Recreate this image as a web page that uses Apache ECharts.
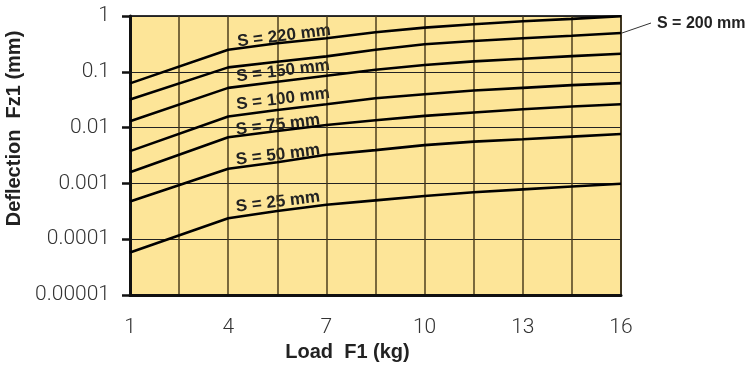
<!DOCTYPE html>
<html>
<head>
<meta charset="utf-8">
<script src="https://cdn.jsdelivr.net/npm/echarts@6/dist/echarts.min.js"></script>
<style>
	html, body { margin: 0; padding: 0; background: #fff; }
	#main { width: 755px; height: 369px; }
</style>
</head>
<body>
<div id="main"></div>
<script>
	var loads = [1, 4, 5.5, 7, 8.5, 10, 11.5, 13, 14.5, 16];
	var gridLoads = [1, 2.5, 4, 5.5, 7, 8.5, 10, 11.5, 13, 14.5, 16];
	var loadTicks = [1, 4, 7, 10, 13, 16];
	var deflectionTicks = ['0.00001', '0.0001', '0.001', '0.01', '0.1', '1'];

	// deflection Fz1 (mm), one list per stroke S
	var s220 = [0.062, 0.249, 0.324, 0.399, 0.512, 0.618, 0.713, 0.805, 0.887, 0.99];
	var s200 = [0.0319, 0.120, 0.151, 0.189, 0.249, 0.311, 0.356, 0.399, 0.444, 0.497];
	var s150 = [0.0130, 0.0515, 0.0661, 0.0847, 0.1086, 0.132, 0.154, 0.171, 0.191, 0.211];
	var s100 = [0.00379, 0.0158, 0.0207, 0.0262, 0.0336, 0.0397, 0.0462, 0.0515, 0.0577, 0.0627];
	var s75 = [0.00159, 0.0067, 0.00869, 0.01114, 0.01352, 0.0162, 0.0186, 0.0213, 0.0239, 0.0262];
	var s50 = [0.000472, 0.00183, 0.0024, 0.00327, 0.00395, 0.00486, 0.0056, 0.00617, 0.00689, 0.00767];
	var s25 = [0.0000579, 0.000237, 0.000321, 0.000414, 0.000497, 0.000596, 0.000692, 0.000783, 0.000879, 0.000984];

	var strokes = [
		{name: 'S = 220 mm', data: s220},
		{name: 'S = 200 mm', data: s200},
		{name: 'S = 150 mm', data: s150},
		{name: 'S = 100 mm', data: s100},
		{name: 'S = 75 mm', data: s75},
		{name: 'S = 50 mm', data: s50},
		{name: 'S = 25 mm', data: s25}
	];

	var lightFont = {fontFamily: 'Roboto', fontWeight: 300, fontSize: 21, color: '#333'};
	var boldFont = {fontFamily: 'Liberation Sans', fontWeight: 'bold', fontSize: 20, color: '#222'};
	var tilt = 7 * Math.PI / 180;

	function curveLabel(text, x, y) {
		return {
			type: 'text', x: x, y: y, rotation: tilt,
			style: {
				text: text, fill: '#222',
				font: 'bold 17px "Liberation Sans"',
				align: 'center', verticalAlign: 'middle'
			}
		};
	}

	var myChart = echarts.init(document.getElementById('main'));
	myChart.setOption({
		animation: false,
		grid: {
			left: 130, right: 134, top: 16, bottom: 74,
			show: true,
			backgroundColor: '#FDE598',
			borderColor: '#333',
			borderWidth: 2,
			outerBoundsMode: 'none'
		},
		xAxis: {
			type: 'value',
			min: 1,
			max: 16,
			axisLine: {lineStyle: {color: '#111', width: 3}},
			axisTick: {show: false, customValues: gridLoads},
			axisLabel: Object.assign({customValues: loadTicks, margin: 22}, lightFont),
			splitLine: {show: true, lineStyle: {color: 'rgba(70,56,25,0.8)', width: 1.8}},
			name: 'Load  F1 (kg)',
			nameLocation: 'middle',
			nameGap: 44,
			nameTextStyle: Object.assign({padding: [0, 56, 0, 0]}, boldFont)
		},
		yAxis: {
			type: 'log',
			logBase: 10,
			min: 0.00001,
			max: 1,
			axisLine: {show: true, lineStyle: {color: '#111', width: 3}},
			axisTick: {show: true, length: 8, lineStyle: {color: '#111', width: 2.5}},
			axisLabel: Object.assign({
				margin: 20,
				formatter: function (v) {
					return deflectionTicks[Math.round(Math.log10(v)) + 5];
				}
			}, lightFont),
			splitLine: {show: true, lineStyle: {color: '#222', width: 1}},
			name: 'Deflection  Fz1 (mm)',
			nameLocation: 'middle',
			nameRotate: 90,
			nameGap: 105,
			nameTextStyle: Object.assign({padding: [0, 0, 0, 54]}, boldFont)
		},
		series: strokes.map(function (s) {
			return {
				name: s.name,
				type: 'line',
				showSymbol: false,
				silent: true,
				lineStyle: {color: '#000', width: 2.6},
				data: s.data.map(function (v, i) { return [loads[i], v]; })
			};
		}),
		graphic: [
			curveLabel('S = 220 mm', 284, 36),
			curveLabel('S = 150 mm', 283, 71),
			curveLabel('S = 100 mm', 283, 99),
			curveLabel('S = 75 mm', 278, 125),
			curveLabel('S = 50 mm', 278, 155),
			curveLabel('S = 25 mm', 278, 202),
			{
				type: 'line',
				shape: {x1: 622, y1: 33, x2: 651, y2: 23},
				style: {stroke: '#333', lineWidth: 1}
			},
			{
				type: 'text', x: 657, y: 24,
				style: {
					text: 'S = 200 mm', fill: '#222',
					font: 'bold 16px "Liberation Sans"',
					align: 'left', verticalAlign: 'middle'
				}
			}
		]
	});
</script>
</body>
</html>
